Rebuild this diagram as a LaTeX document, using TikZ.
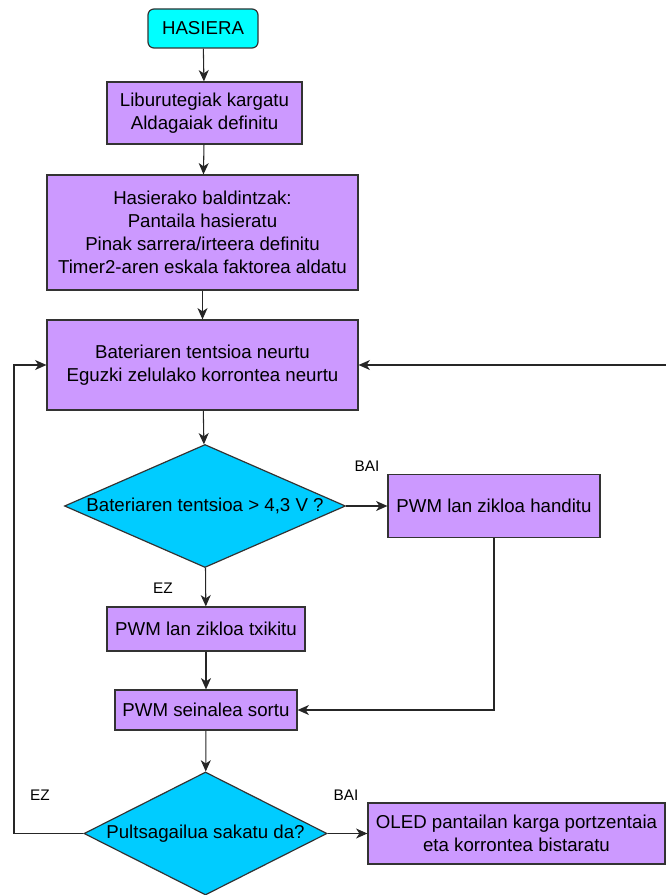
\documentclass[tikz,border=0pt]{standalone}
\usepackage{fontspec}
\setmainfont{Liberation Sans}
\usetikzlibrary{shapes.geometric,arrows.meta}

\definecolor{procfill}{HTML}{CC99FF}
\definecolor{startfill}{HTML}{00FFFF}
\definecolor{decfill}{HTML}{00CCFF}

\tikzset{
  base/.style={draw=black!80, line width=0.9pt, inner sep=0pt, align=center,
    font=\fontsize{14}{17.25}\selectfont},
  proc/.style={base, rectangle, fill=procfill},
  startbox/.style={base, rectangle, rounded corners=4.5pt, fill=startfill},
  decision/.style={base, diamond, fill=decfill},
  arr/.style={draw=black!85, line width=0.8pt, -{Stealth[length=8.5pt,width=7.5pt,inset=2.5pt]}},
  lbl/.style={inner sep=0.75pt, font=\fontsize{11.5}{13}\selectfont},
}

\begin{document}
\begin{tikzpicture}[x=0.75pt,y=0.75pt,yscale=-1,xscale=1]
\useasboundingbox (0,0) rectangle (666,895);

% Start
\node[startbox, minimum width=82.5pt, minimum height=29.25pt] (start) at (203,28.5) {HASIERA};
% Process boxes
\node[proc, minimum width=146.25pt, minimum height=46.5pt] (lib) at (204.5,113) {Liburutegiak kargatu\\Aldagaiak definitu};
\node[proc, minimum width=233.25pt, minimum height=86.25pt] (hasi) at (202.5,232.5) {Hasierako baldintzak:\\Pantaila hasieratu\\Pinak sarrera/irteera definitu\\Timer2-aren eskala faktorea aldatu};
\node[proc, minimum width=233.25pt, minimum height=67.5pt] (neurtu) at (202.5,365) {Bateriaren tentsioa neurtu\\Eguzki zelulako korrontea neurtu};
% Decision: voltage
\node[decision, aspect=2.28, minimum width=210.75pt, minimum height=92.25pt] (dec1) at (205,506) {Bateriaren tentsioa > 4,3 V ?};
\node[proc, minimum width=159pt, minimum height=47.25pt] (handitu) at (494,506) {PWM lan zikloa handitu};
\node[proc, minimum width=148.5pt, minimum height=33pt] (txikitu) at (206,629) {PWM lan zikloa txikitu};
\node[proc, minimum width=136.5pt, minimum height=30pt] (sortu) at (206,710) {PWM seinalea sortu};
% Decision: button
\node[decision, aspect=1.98, minimum width=182.25pt, minimum height=92.25pt] (dec2) at (205.5,833.5) {Pultsagailua sakatu da?};
\node[proc, minimum width=222.75pt, minimum height=45.75pt] (oled) at (516.5,833.5) {OLED pantailan karga portzentaia\\eta korrontea bistaratu};

% Rails for the loops
\coordinate (rrail) at (666,365);
\coordinate (lrail) at (14,833.5);

% Connectors
\draw[arr] (start) -- (lib);
\draw[arr] (lib) -- (hasi);
\draw[arr] (hasi) -- (neurtu);
\draw[arr] (neurtu) -- (dec1);
\draw[arr] (dec1) -- (handitu);
\draw[arr] (dec1) -- (txikitu);
\draw[arr] (txikitu) -- (sortu);
\draw[arr] (handitu.south) |- (sortu.east);
\draw[arr] (sortu) -- (dec2);
\draw[arr] (dec2) -- (oled);
\draw[arr] (dec2.west) -- (lrail) |- (neurtu.west);
\draw[arr] (rrail) -- (neurtu.east);

% Branch labels
\node[lbl] (bai1) at (367,466) {BAI};
\node[lbl] (ez1) at (163,588) {EZ};
\node[lbl] (ez2) at (40,795) {EZ};
\node[lbl] (bai2) at (346,795) {BAI};

\end{tikzpicture}
\end{document}
